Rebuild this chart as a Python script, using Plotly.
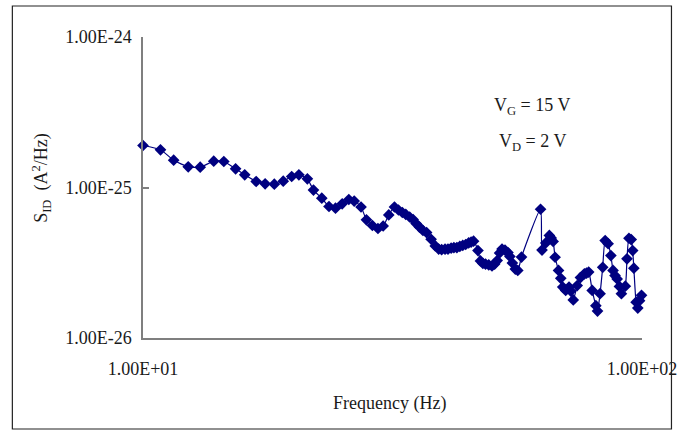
import plotly.graph_objects as go

# Frequency (Hz)
freq = [10.0, 10.84, 11.52, 12.32, 13.02, 13.86, 14.52, 15.33, 15.99, 16.86,
        17.57, 18.33, 19.10, 19.86, 20.53, 21.35, 21.96, 22.82, 23.59, 24.31,
        25.07, 25.85, 26.50, 27.35, 28.04, 28.82, 29.57, 30.29, 31.08, 31.91,
        32.50, 33.09, 33.62, 34.23, 34.78, 35.26, 35.82, 36.39, 37.01, 37.79,
        38.52, 39.13, 39.67, 40.30, 40.85, 41.45, 41.98, 42.56, 43.14, 43.73,
        44.33, 44.94, 45.45, 45.97, 46.91, 47.45, 47.99, 48.58, 49.31, 50.05,
        50.67, 51.25, 51.83, 52.42, 53.14, 53.87, 54.36, 54.98, 55.73, 56.37,
        57.35, 62.62, 63.04, 64.14, 65.22, 65.76, 66.36, 66.96, 68.03, 68.74,
        69.37, 70.32, 71.41, 72.00, 72.82, 74.15, 75.27, 76.65, 77.41, 78.19,
        79.47, 80.82, 81.44, 82.41, 83.42, 84.37, 85.53, 86.62, 87.49, 88.29,
        89.17, 90.11, 90.93, 92.59, 93.31, 94.16, 95.14, 95.79, 96.31, 97.32,
        98.08, 98.88, 99.78]

# S_ID in units of 1e-26 A^2/Hz
sid_e26 = [19.01, 17.80, 15.18, 13.73, 13.64, 14.95, 14.89, 13.31, 12.14, 10.96,
           10.58, 10.52, 11.01, 11.83, 12.14, 11.42, 9.62, 8.49, 7.48, 7.29,
           7.79, 8.32, 8.13, 7.42, 6.10, 5.59, 5.34, 5.55, 6.57, 7.42,
           7.09, 6.82, 6.62, 6.37, 6.13, 5.76, 5.46, 5.18, 5.02, 4.53,
           4.09, 3.90, 3.86, 3.89, 3.90, 3.96, 3.98, 3.99, 4.06, 4.12,
           4.18, 4.28, 4.34, 4.40, 3.81, 3.25, 3.13, 3.10, 3.06, 3.01,
           3.10, 3.27, 3.67, 3.90, 3.84, 3.70, 3.48, 3.15, 2.87, 2.81,
           3.45, 7.17, 3.84, 4.28, 4.80, 4.62, 4.38, 3.44, 2.81, 2.49,
           2.18, 2.07, 2.18, 2.05, 1.79, 2.23, 2.52, 2.67, 2.70, 2.74,
           2.07, 1.64, 1.51, 1.97, 2.95, 4.44, 4.23, 3.53, 2.81, 2.60,
           2.47, 2.20, 1.97, 2.21, 3.36, 4.60, 4.51, 3.81, 2.91, 1.73,
           1.58, 1.77, 1.92]
sid = [v * 1e-26 for v in sid_e26]

x_tickvals = [10, 100]
x_ticktext = ["1.00E+01", "1.00E+02"]
y_tickvals = [1e-26, 1e-25, 1e-24]
y_ticktext = ["1.00E-26", "1.00E-25", "1.00E-24"]

FONT = "Liberation Serif"
FS = 18
TXT = "#1a1a1a"
NAVY = "#000080"
AXC = "#7f7f7f"


def ann(text, px, py, angle=0):
    return dict(text=text, xref="paper", yref="paper",
                x=(px - 143) / 508, y=(338 - py) / 301,
                xanchor="center", yanchor="middle", showarrow=False,
                textangle=angle, font=dict(family=FONT, size=FS, color=TXT))


fig = go.Figure()
fig.add_trace(go.Scatter(
    x=freq, y=sid, mode="lines+markers",
    line=dict(color=NAVY, width=1.2, shape="spline", smoothing=0.6),
    marker=dict(symbol="diamond", size=9, color=NAVY),
    showlegend=False, cliponaxis=False,
))

axis_common = dict(type="log", showgrid=False, zeroline=False, showline=True,
                   linecolor=AXC, linewidth=1.5, ticks="inside", ticklen=6,
                   tickcolor=AXC, tickwidth=1.5,
                   tickfont=dict(family=FONT, size=FS, color=TXT))

fig.update_layout(
    width=689, height=434,
    margin=dict(l=143, r=38, t=37, b=96),
    paper_bgcolor="white", plot_bgcolor="white",
    font=dict(family=FONT, size=FS, color=TXT),
    xaxis=dict(range=[1, 2], tickvals=x_tickvals, ticktext=x_ticktext,
               ticklabelstandoff=14, **axis_common),
    yaxis=dict(range=[-26, -24], tickvals=y_tickvals, ticktext=y_ticktext,
               ticklabelstandoff=6, **axis_common),
    shapes=[dict(type="rect", xref="paper", yref="paper",
                 x0=(10 - 143) / 508, x1=(681 - 143) / 508,
                 y0=(338 - 429) / 301, y1=(338 - 6) / 301,
                 line=dict(color="#222", width=1.2), fillcolor="rgba(0,0,0,0)", layer="below")],
    annotations=[
        ann("V<sub>G</sub> = 15 V", 539, 107),
        ann("V<sub>D</sub> = 2 V", 540, 142),
        ann("Frequency (Hz)", 394, 404),
        ann("S<sub>ID</sub>  (A<sup>2</sup>/Hz)", 39, 178, angle=-90),
    ],
)

fig.write_html("out.html")
